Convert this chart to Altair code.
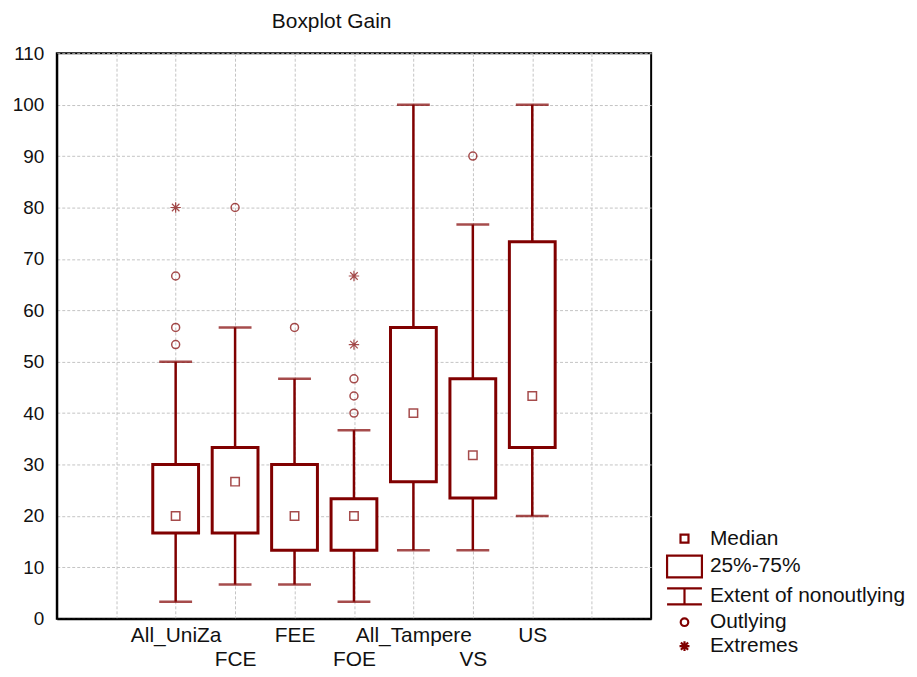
import altair as alt
import pandas as pd

# ---- data ----
categories = ["All_UniZa", "FCE", "FEE", "FOE", "All_Tampere", "VS", "US"]
whisker_low = [3.33, 6.67, 6.67, 3.33, 13.33, 13.33, 20.0]
q1 = [16.67, 16.67, 13.33, 13.33, 26.67, 23.5, 33.33]
median = [20.0, 26.67, 20.0, 20.0, 40.0, 31.8, 43.33]
q3 = [30.0, 33.33, 30.0, 23.33, 56.67, 46.67, 73.33]
whisker_high = [50.0, 56.67, 46.67, 36.67, 100.0, 76.67, 100.0]

outlying_cat = ["All_UniZa", "All_UniZa", "All_UniZa", "FCE", "FEE", "FOE", "FOE", "FOE", "VS"]
outlying_val = [53.33, 56.67, 66.67, 80.0, 56.67, 40.0, 43.33, 46.67, 90.0]
extreme_cat = ["All_UniZa", "FOE", "FOE"]
extreme_val = [80.0, 53.33, 66.67]

legend_items = ["Median", "25%-75%", "Extent of nonoutlying", "Outlying", "Extremes"]
y_ticks = list(range(0, 111, 10))

# ---- styling ----
RED = "#800000"
FONT = "Liberation Sans"
TXT = "#111111"

pos = {c: i + 2 for i, c in enumerate(categories)}
boxes = pd.DataFrame({
    "cat": categories,
    "pos": [pos[c] for c in categories],
    "lo": whisker_low, "q1": q1, "med": median, "q3": q3, "hi": whisker_high,
})
outl = pd.DataFrame({"pos": [pos[c] for c in outlying_cat], "v": outlying_val})
extr = pd.DataFrame({"pos": [pos[c] for c in extreme_cat], "v": extreme_val})
leg = pd.DataFrame({"kind": legend_items})

# x-axis label expression with staggered rows
parts = []
for i, c in enumerate(categories):
    lab = f"'{c}'" if i % 2 == 0 else f"['', '{c}']"
    parts.append(f"datum.value == {pos[c]} ? {lab} : ")
label_expr = "".join(parts) + "''"

xscale = alt.Scale(domain=[0, 10], nice=False, zero=False, padding=0)
yscale = alt.Scale(domain=[0, 110], nice=False, padding=0)

xaxis = alt.Axis(values=list(range(1, 10)), labelExpr=label_expr, title=None,
                 grid=True, gridColor="#c4c4c4", gridDash=[3, 2], gridWidth=1,
                 ticks=False, labelPadding=6, labelFontSize=21, labelFont=FONT,
                 labelColor=TXT, labelOverlap=False, labelFlush=False, labelBound=False,
                 labelLineHeight=24, labelBaseline="top",
                 domainColor="black", domainWidth=2)
yaxis = alt.Axis(values=y_ticks, title=None, grid=True, gridColor="#c4c4c4",
                 gridDash=[3, 2], gridWidth=1, ticks=False, labelPadding=13,
                 labelFontSize=19, labelFont=FONT, labelColor=TXT,
                 domainColor="black", domainWidth=2)

base = alt.Chart(boxes)
X = alt.X("pos:Q", scale=xscale, axis=xaxis)

whisk_lo = base.mark_rule(color=RED, strokeWidth=2.5).encode(
    x=X, y=alt.Y("lo:Q", scale=yscale, axis=yaxis), y2="q1:Q")
whisk_hi = base.mark_rule(color=RED, strokeWidth=2.5).encode(
    x=X, y=alt.Y("q3:Q", scale=yscale, axis=yaxis), y2="hi:Q")
cap_lo = base.mark_tick(color=RED, orient="horizontal", size=33, thickness=2.5).encode(
    x=X, y=alt.Y("lo:Q", scale=yscale, axis=yaxis))
cap_hi = base.mark_tick(color=RED, orient="horizontal", size=33, thickness=2.5).encode(
    x=X, y=alt.Y("hi:Q", scale=yscale, axis=yaxis))
box = base.mark_bar(size=46, fill="white", stroke=RED, strokeWidth=3).encode(
    x=X, y=alt.Y("q1:Q", scale=yscale, axis=yaxis), y2="q3:Q")
med = base.mark_point(shape="square", size=72, filled=False, color=RED, strokeWidth=1.5).encode(
    x=X, y=alt.Y("med:Q", scale=yscale, axis=yaxis))

out_pts = alt.Chart(outl).mark_point(shape="circle", size=64, filled=False, color=RED,
                                     strokeWidth=1.5).encode(
    x=X, y=alt.Y("v:Q", scale=yscale, axis=yaxis))
ast = "M-1,0H1M0,-1V1M-0.72,-0.72L0.72,0.72M-0.72,0.72L0.72,-0.72"
ext_pts = alt.Chart(extr).mark_point(shape=ast, size=110, filled=False, color=RED,
                                     strokeWidth=1.2).encode(
    x=X, y=alt.Y("v:Q", scale=yscale, axis=yaxis))

# legend symbols as custom paths (unit = 10 px at symbolSize 400)
leg_shapes = [
    "M-0.4,-0.4H0.4V0.4H-0.4Z",
    "M-1.75,-1.1H1.75V1.1H-1.75Z",
    "M-1.75,-0.8H1.75M0,-0.8V0.8M-1.75,0.8H1.75",
    "M-0.38,0A0.38,0.38,0,1,0,0.38,0A0.38,0.38,0,1,0,-0.38,0Z",
    "M-0.5,0H0.5M0,-0.5V0.5M-0.36,-0.36L0.36,0.36M-0.36,0.36L0.36,-0.36",
]
legend_layer = alt.Chart(leg).mark_point(filled=False, color=RED, opacity=0, size=0).encode(
    x=alt.value(0),
    y=alt.value(0),
    shape=alt.Shape("kind:N", scale=alt.Scale(domain=legend_items, range=leg_shapes),
                    legend=alt.Legend(title=None, orient="none", legendX=619, legendY=476,
                                      padding=0, symbolSize=400, symbolStrokeWidth=2.2,
                                      symbolStrokeColor=RED, symbolOpacity=1,
                                      symbolFillColor="transparent",
                                      labelFontSize=21, labelFont=FONT, labelColor=TXT,
                                      labelOffset=14, labelLimit=300, rowPadding=2)),
)

chart = alt.layer(whisk_lo, whisk_hi, cap_lo, cap_hi, box, med, out_pts, ext_pts,
                  legend_layer).properties(
    width=597, height=568,
    title=alt.TitleParams("Boxplot Gain", anchor="start", frame="group", dx=216, offset=12,
                          fontSize=21, font=FONT, fontWeight="normal", color=TXT),
    autosize=alt.AutoSizeParams(type="none"),
    padding={"left": 49, "top": 44, "right": 259, "bottom": 49},
).configure_view(stroke="black", strokeWidth=2).configure_axis(labelFont=FONT)

chart.save("out.html", embed_options={"renderer": "svg", "actions": False})
